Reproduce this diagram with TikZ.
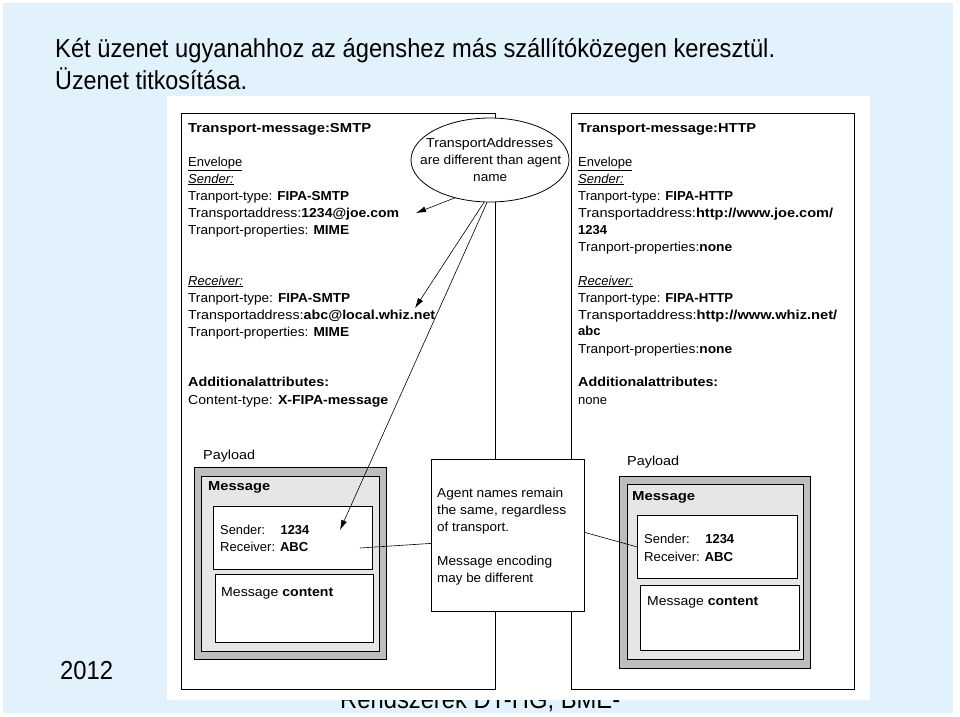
\documentclass[tikz,border=0pt]{standalone}
\usepackage{fontspec}
\setmainfont{Liberation Sans}
\usetikzlibrary{shapes.geometric,arrows.meta}
\definecolor{bgblue}{HTML}{E1F2FC}
\definecolor{gdark}{HTML}{BEBEBE}
\definecolor{glight}{HTML}{E6E6E6}
\newcommand\fw[2]{\resizebox{#1pt}{\height}{#2}}
\begin{document}
\begin{tikzpicture}[x=1pt,y=-1pt,
  txt/.style={anchor=base west, inner sep=0pt, font=\fontsize{13}{15}\selectfont},
  big/.style={anchor=base west, inner sep=0pt, font=\fontsize{26}{30}\selectfont},
  boxn/.style={draw, line width=0.8pt, anchor=north west, inner sep=0pt},
  conn/.style={line width=0.6pt},
  arr/.style={conn, -{Latex[length=10pt,width=6pt]}}]
\useasboundingbox (0,0) rectangle (960,716);
\fill[white] (0,0) rectangle (960,716);
\fill[bgblue] (3,3) rectangle (953,713);
% title and footer
\node[big] (title1) at (55,57) {\fw{720}{Két üzenet ugyanahhoz az ágenshez más szállítóközegen keresztül.}};
\node[big] (title2) at (55,89) {\fw{192}{Üzenet titkosítása.}};
\node[big] (year) at (60,679) {\fw{53}{2012}};
\node[big] (foot) at (340,708) {\fw{280}{Rendszerek DT-HG, BME-}};
% white picture area
\node[boxn, draw=none, fill=white, minimum width=703pt, minimum height=604pt] (pic) at (167,96) {};
% panels
\node[boxn, fill=white, minimum width=314pt, minimum height=576pt] (lpanel) at (181,113) {};
\node[boxn, fill=white, minimum width=283pt, minimum height=576pt] (rpanel) at (571,113) {};
% left panel text
\node[txt] (l1) at (188,132) {\fw{183}{\bfseries Transport-message:SMTP}};
\node[txt] (l2) at (188,166) {\underline{Envelope}};
\node[txt] (l3) at (188,183) {\underline{\itshape Sender:}};
\node[txt] (l4) at (188,200) {\fw{161}{Tranport-type: \textbf{FIPA-SMTP}}};
\node[txt] (l5) at (188,217) {\fw{211}{Transportaddress:\textbf{1234@joe.com}}};
\node[txt] (l6) at (188,234) {\fw{161}{Tranport-properties: \textbf{MIME}}};
\node[txt] (l7) at (188,285) {\underline{\itshape Receiver:}};
\node[txt] (l8) at (188,302) {\fw{162}{Tranport-type: \textbf{FIPA-SMTP}}};
\node[txt] (l9) at (188,319) {\fw{247}{Transportaddress:\textbf{abc@local.whiz.net}}};
\node[txt] (l10) at (188,336) {\fw{161}{Tranport-properties: \textbf{MIME}}};
\node[txt] (l11) at (188,386) {\fw{141}{\bfseries Additionalattributes:}};
\node[txt] (l12) at (188,404) {\fw{200}{Content-type: \textbf{X-FIPA-message}}};
% right panel text
\node[txt] (r1) at (578,132) {\fw{178}{\bfseries Transport-message:HTTP}};
\node[txt] (r2) at (578,166) {\underline{Envelope}};
\node[txt] (r3) at (578,183) {\underline{\itshape Sender:}};
\node[txt] (r4) at (578,200) {\fw{155}{Tranport-type: \textbf{FIPA-HTTP}}};
\node[txt] (r5) at (578,217) {\fw{255}{Transportaddress:\textbf{http://www.joe.com/}}};
\node[txt] (r6) at (578,234) {\textbf{1234}};
\node[txt] (r7) at (578,251) {\fw{154}{Tranport-properties:\textbf{none}}};
\node[txt] (r8) at (578,285) {\underline{\itshape Receiver:}};
\node[txt] (r9) at (578,302) {\fw{155}{Tranport-type: \textbf{FIPA-HTTP}}};
\node[txt] (r10) at (578,319) {\fw{259}{Transportaddress:\textbf{http://www.whiz.net/}}};
\node[txt] (r11) at (578,335) {\textbf{abc}};
\node[txt] (r12) at (578,353) {\fw{154}{Tranport-properties:\textbf{none}}};
\node[txt] (r13) at (578,386) {\fw{140}{\bfseries Additionalattributes:}};
\node[txt] (r14) at (578,404) {none};
% left payload
\node[txt] (lpay) at (203,459) {\fw{52}{Payload}};
\node[boxn, fill=gdark, minimum width=192pt, minimum height=192pt] (lout) at (194,467) {};
\node[boxn, fill=glight, minimum width=178pt, minimum height=175pt] (lin) at (201,476) {};
\node[txt] (lmsg) at (208,490) {\fw{62}{\bfseries Message}};
\node[boxn, fill=white, minimum width=159pt, minimum height=63pt] (lsend) at (213,506) {};
\node[txt] (ls1) at (220,534) {\fw{89}{Sender:\hspace{1.2em}\textbf{1234}}};
\node[txt] (ls2) at (220,551) {\fw{88}{Receiver: \textbf{ABC}}};
\node[boxn, fill=white, minimum width=158pt, minimum height=68pt] (lcont) at (215,574) {};
\node[txt] (lc1) at (221,596) {\fw{112}{Message \textbf{content}}};
% right payload
\node[txt] (rpay) at (627,465) {\fw{52}{Payload}};
\node[boxn, fill=gdark, minimum width=191pt, minimum height=192pt] (rout) at (619,476) {};
\node[boxn, fill=glight, minimum width=176pt, minimum height=175pt] (rin) at (627,484) {};
\node[txt] (rmsg) at (632,500) {\fw{63}{\bfseries Message}};
\node[boxn, fill=white, minimum width=160pt, minimum height=63pt] (rsend) at (637,515) {};
\node[txt] (rs1) at (644,543) {\fw{90}{Sender:\hspace{1.2em}\textbf{1234}}};
\node[txt] (rs2) at (644,561) {\fw{89}{Receiver: \textbf{ABC}}};
\node[boxn, fill=white, minimum width=159pt, minimum height=65pt] (rcont) at (640,585) {};
\node[txt] (rc1) at (647,605) {\fw{111}{Message \textbf{content}}};
% ellipse
\node[draw, fill=white, ellipse, line width=0.8pt, minimum width=158pt, minimum height=84pt, inner sep=0pt] (ell) at (490,160) {};
\node[txt] (e1) at (426,147) {\fw{127}{TransportAddresses}};
\node[txt] (e2) at (420,164) {\fw{141}{are different than agent}};
\node[txt] (e3) at (473,181) {\fw{34}{name}};
% middle note
\node[boxn, fill=white, minimum width=153pt, minimum height=152pt] (mid) at (431,459) {};
\node[txt] (m1) at (437,497) {\fw{126}{Agent names remain}};
\node[txt] (m2) at (437,514) {\fw{129}{the same, regardless}};
\node[txt] (m3) at (437,531) {\fw{72}{of transport.}};
\node[txt] (m4) at (437,565) {\fw{115}{Message encoding}};
\node[txt] (m5) at (437,582) {\fw{96}{may be different}};
% connectors
\coordinate (a1) at (416,213);
\coordinate (a2) at (415,308);
\coordinate (a3) at (340,530);
\coordinate (ls) at (360,548);
\draw[arr] (ell.227) -- (a1);
\draw[arr] (ell.262) -- (a2);
\draw[arr] (ell.266) -- (a3);
\draw[conn] (ls) -- ([yshift=-8pt]mid.west);
\draw[conn] ([yshift=3pt]mid.east) -- (rsend.west);
\end{tikzpicture}
\end{document}
